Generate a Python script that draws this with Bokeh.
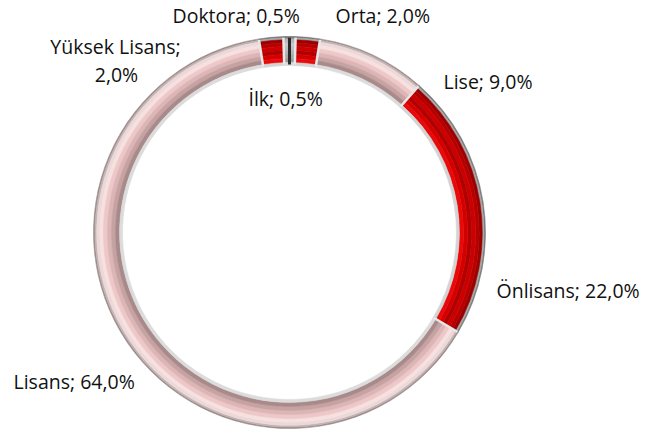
import math
from bokeh.plotting import figure
from bokeh.models import Range1d, ColumnDataSource
from bokeh.core.properties import value
from bokeh.embed import file_html
from bokeh.resources import INLINE

# ---- data ----
categories = ["İlk", "Orta", "Lise", "Önlisans", "Lisans", "Yüksek Lisans", "Doktora"]
shares = [0.5, 2.0, 9.0, 22.0, 64.0, 2.0, 0.5]
kinds = ["grey", "red", "pink", "red", "pink", "red", "grey"]

# ---- layout (reference pixel coordinates; y measured from top) ----
W, H = 649, 434
CX, CY = 289, 232
R_OUT, R_IN = 196, 167

def Y(py):
    return H - py

p = figure(width=W, height=H, output_backend="svg", toolbar_location=None,
           x_range=Range1d(0, W), y_range=Range1d(0, H),
           min_border=0, outline_line_color=None)
p.axis.visible = False
p.grid.visible = False
p.background_fill_color = "white"
p.border_fill_color = "white"

# bands from outer (0) to inner (1) and colours
bands = [(0.00, 0.05), (0.05, 0.11), (0.11, 0.22), (0.22, 0.34), (0.34, 0.48),
         (0.48, 0.62), (0.62, 0.76), (0.76, 0.90), (0.90, 1.00)]
palettes = {
    "red":  ["#7a7a7a", "#a8a8a8", "#9a0000", "#b40000", "#cc0000", "#b00000",
             "#d40000", "#e80a0a", "#d4d4d4"],
    "pink": ["#9a8c8c", "#c4b4b4", "#ecd8d8", "#f6e0e0", "#eec8c8", "#dcb6b6",
             "#c6a2a2", "#a88a8a", "#dcdcdc"],
    "grey": ["#6e6e6e", "#9a9a9a", "#b8b8b8", "#c8c8c8", "#c0c0c0", "#b4b4b4",
             "#a8a8a8", "#9c9c9c", "#dadada"],
}

total = sum(shares)
cum = 0.0
starts, ends = [], []
for s in shares:
    c0 = cum / total
    cum += s
    c1 = cum / total
    starts.append(math.pi / 2 - c1 * 2 * math.pi)
    ends.append(math.pi / 2 - c0 * 2 * math.pi)

for bi, (f0, f1) in enumerate(bands):
    r_outer = R_OUT - f0 * (R_OUT - R_IN)
    r_inner = R_OUT - f1 * (R_OUT - R_IN)
    src = ColumnDataSource(dict(
        x=[CX] * len(shares), y=[Y(CY)] * len(shares),
        sa=starts, ea=ends,
        color=[palettes[k][bi] for k in kinds]))
    p.annular_wedge(x="x", y="y", inner_radius=r_inner, outer_radius=r_outer,
                    start_angle="sa", end_angle="ea", fill_color="color",
                    line_color="color", line_width=0.6, source=src)

# separators between slices
xs0, ys0, xs1, ys1 = [], [], [], []
for a in ends:
    xs0.append(CX + (R_IN + 1) * math.cos(a))
    ys0.append(Y(CY) + (R_IN + 1) * math.sin(a))
    xs1.append(CX + (R_OUT - 1) * math.cos(a))
    ys1.append(Y(CY) + (R_OUT - 1) * math.sin(a))
p.segment(x0=xs0, y0=ys0, x1=xs1, y1=ys1, line_color="#e8e8e8", line_width=2.5)
# dark seam at the start of the first slice
p.segment(x0=[xs0[0]], y0=[ys0[0]], x1=[xs1[0]], y1=[ys1[0]], line_color="#2a2a2a", line_width=3)

# ---- labels ----
def fmt(v):
    return ("%.1f" % v).replace(".", ",") + "%"

lines, lx, ly, la = [], [], [], []
label_pos = {
    "İlk": [(248, 98, "left")],
    "Orta": [(335, 15, "left")],
    "Lise": [(443, 81, "left")],
    "Önlisans": [(496, 290, "left")],
    "Lisans": [(13, 381, "left")],
    "Yüksek Lisans": [(115, 46, "center"), (116, 74, "center")],
    "Doktora": [(172, 15, "left")],
}
for c, v in zip(categories, shares):
    pos = label_pos[c]
    if len(pos) == 2:
        parts = [c + ";", fmt(v)]
    else:
        parts = [c + "; " + fmt(v)]
    for t, (x, y, a) in zip(parts, pos):
        lines.append(t)
        lx.append(x)
        ly.append(Y(y))
        la.append(a)

lsrc = ColumnDataSource(dict(x=lx, y=ly, t=lines, a=la))
p.text(x="x", y="y", text="t", text_align="a", text_baseline="middle",
       text_font=value("Open Sans"), text_font_size="19.5px", text_color="#111111",
       source=lsrc)

open("out.html", "w").write(file_html(p, INLINE))
